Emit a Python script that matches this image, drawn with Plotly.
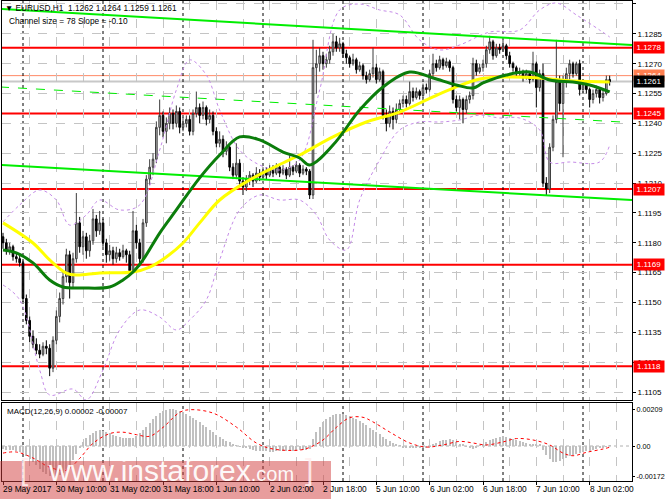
import plotly.graph_objects as go

# ---------------- data ----------------
bar_idx = list(range(183))

opens = [1.1183,1.1180,1.1176,1.1178,1.1173,1.1172,1.1170,1.1152,1.1141,1.1133,
 1.1129,1.1126,1.1124,1.1128,1.1127,1.1117,1.1131,1.1143,1.1152,1.1163,
 1.1174,1.1160,1.1172,1.1190,1.1178,1.1183,1.1176,1.1181,1.1192,1.1186,
 1.1190,1.1180,1.1174,1.1176,1.1172,1.1175,1.1173,1.1176,1.1174,1.1166,
 1.1186,1.1180,1.1172,1.1190,1.1212,1.1218,1.1222,1.1238,1.1244,1.1236,
 1.1240,1.1245,1.1240,1.1246,1.1238,1.1240,1.1242,1.1236,1.1245,1.1248,
 1.1244,1.1248,1.1242,1.1244,1.1236,1.1230,1.1232,1.1226,1.1228,1.1218,
 1.1214,1.1220,1.1211,1.1208,1.1212,1.1214,1.1211,1.1215,1.1213,1.1216,
 1.1214,1.1217,1.1215,1.1218,1.1215,1.1217,1.1214,1.1218,1.1216,1.1219,
 1.1215,1.1217,1.1216,1.1204,1.1268,1.1270,1.1274,1.1270,1.1272,1.1276,
 1.1281,1.1278,1.1280,1.1275,1.1273,1.1270,1.1272,1.1267,1.1269,1.1264,
 1.1262,1.1265,1.1268,1.1262,1.1266,1.1244,1.1240,1.1246,1.1242,1.1247,
 1.1250,1.1252,1.1250,1.1256,1.1253,1.1256,1.1254,1.1258,1.1257,1.1265,
 1.1270,1.1268,1.1272,1.1269,1.1271,1.1268,1.1252,1.1248,1.1252,1.1247,
 1.1252,1.1254,1.1270,1.1266,1.1268,1.1270,1.1277,1.1281,1.1274,1.1278,
 1.1277,1.1279,1.1274,1.1270,1.1268,1.1265,1.1266,1.1263,1.1265,1.1262,
 1.1270,1.1258,1.1265,1.1210,1.1207,1.1228,1.1242,1.1261,1.1250,1.1262,
 1.1265,1.1270,1.1265,1.1270,1.1257,1.1260,1.1257,1.1252,1.1255,1.1257,
 1.1253,1.1255,1.1262]

highs = [1.1185,1.1182,1.1180,1.1179,1.1175,1.1174,1.1171,1.1154,1.1143,1.1136,
 1.1132,1.1129,1.1130,1.1131,1.1129,1.1133,1.1146,1.1155,1.1166,1.1177,
 1.1176,1.1175,1.1205,1.1193,1.1186,1.1185,1.1184,1.1197,1.1194,1.1196,
 1.1192,1.1182,1.1179,1.1178,1.1178,1.1177,1.1179,1.1177,1.1176,1.1196,
 1.1189,1.1182,1.1192,1.1214,1.1222,1.1225,1.1241,1.1252,1.1246,1.1243,
 1.1248,1.1247,1.1249,1.1248,1.1243,1.1244,1.1244,1.1247,1.1256,1.1250,
 1.1251,1.1249,1.1247,1.1246,1.1238,1.1236,1.1234,1.1231,1.1229,1.1220,
 1.1230,1.1222,1.1213,1.1214,1.1216,1.1215,1.1218,1.1217,1.1218,1.1218,
 1.1219,1.1219,1.1220,1.1219,1.1219,1.1218,1.1224,1.1219,1.1221,1.1220,
 1.1219,1.1218,1.1217,1.1282,1.1277,1.1278,1.1276,1.1275,1.1279,1.1285,
 1.1284,1.1283,1.1281,1.1277,1.1274,1.1275,1.1273,1.1271,1.1270,1.1266,
 1.1267,1.1278,1.1270,1.1268,1.1267,1.1247,1.1249,1.1248,1.1250,1.1252,
 1.1254,1.1254,1.1261,1.1258,1.1258,1.1257,1.1260,1.1260,1.1267,1.1275,
 1.1272,1.1274,1.1273,1.1273,1.1272,1.1269,1.1254,1.1254,1.1253,1.1254,
 1.1256,1.1273,1.1272,1.1270,1.1272,1.1279,1.1284,1.1282,1.1280,1.1280,
 1.1282,1.1280,1.1276,1.1271,1.1269,1.1268,1.1267,1.1267,1.1266,1.1276,
 1.1271,1.1267,1.1270,1.1213,1.1230,1.1244,1.1282,1.1264,1.1264,1.1268,
 1.1272,1.1271,1.1271,1.1272,1.1262,1.1261,1.1258,1.1257,1.1259,1.1258,
 1.1257,1.1264,1.1264]

lows = [1.1177,1.1174,1.1174,1.1171,1.1170,1.1168,1.1150,1.1139,1.1130,1.1127,
 1.1124,1.1122,1.1123,1.1124,1.1113,1.1115,1.1129,1.1140,1.1149,1.1160,
 1.1152,1.1157,1.1170,1.1175,1.1174,1.1172,1.1173,1.1179,1.1183,1.1184,
 1.1178,1.1170,1.1171,1.1169,1.1170,1.1171,1.1172,1.1170,1.1164,1.1165,
 1.1177,1.1168,1.1170,1.1188,1.1209,1.1214,1.1220,1.1234,1.1233,1.1230,
 1.1237,1.1237,1.1238,1.1235,1.1236,1.1238,1.1234,1.1234,1.1243,1.1240,
 1.1242,1.1239,1.1240,1.1234,1.1228,1.1228,1.1223,1.1224,1.1216,1.1212,
 1.1212,1.1209,1.1204,1.1206,1.1209,1.1208,1.1210,1.1211,1.1212,1.1212,
 1.1213,1.1213,1.1214,1.1213,1.1214,1.1212,1.1213,1.1214,1.1215,1.1213,
 1.1214,1.1214,1.1202,1.1202,1.1255,1.1266,1.1267,1.1268,1.1270,1.1274,
 1.1276,1.1276,1.1273,1.1270,1.1268,1.1269,1.1265,1.1266,1.1262,1.1260,
 1.1261,1.1263,1.1260,1.1261,1.1242,1.1236,1.1238,1.1237,1.1240,1.1245,
 1.1248,1.1248,1.1249,1.1251,1.1252,1.1252,1.1253,1.1255,1.1256,1.1263,
 1.1266,1.1267,1.1267,1.1268,1.1266,1.1250,1.1246,1.1242,1.1240,1.1245,
 1.1250,1.1252,1.1264,1.1265,1.1266,1.1268,1.1275,1.1272,1.1273,1.1275,
 1.1276,1.1272,1.1268,1.1266,1.1263,1.1264,1.1261,1.1262,1.1260,1.1261,
 1.1248,1.1256,1.1208,1.1204,1.1205,1.1226,1.1240,1.1246,1.1223,1.1258,
 1.1262,1.1263,1.1264,1.1254,1.1255,1.1255,1.1248,1.1250,1.1253,1.1250,
 1.1251,1.1254,1.1259]

closes = [1.1180,1.1176,1.1178,1.1173,1.1172,1.1170,1.1152,1.1141,1.1133,1.1129,
 1.1126,1.1124,1.1128,1.1127,1.1117,1.1131,1.1143,1.1152,1.1163,1.1174,
 1.1160,1.1172,1.1190,1.1178,1.1183,1.1176,1.1181,1.1192,1.1186,1.1190,
 1.1180,1.1174,1.1176,1.1172,1.1175,1.1173,1.1176,1.1174,1.1166,1.1186,
 1.1180,1.1172,1.1190,1.1212,1.1218,1.1222,1.1238,1.1244,1.1236,1.1240,
 1.1245,1.1240,1.1246,1.1238,1.1240,1.1242,1.1236,1.1245,1.1248,1.1244,
 1.1248,1.1242,1.1244,1.1236,1.1230,1.1232,1.1226,1.1228,1.1218,1.1214,
 1.1220,1.1211,1.1208,1.1212,1.1214,1.1211,1.1215,1.1213,1.1216,1.1214,
 1.1217,1.1215,1.1218,1.1215,1.1217,1.1214,1.1218,1.1216,1.1219,1.1215,
 1.1217,1.1216,1.1204,1.1268,1.1270,1.1274,1.1270,1.1272,1.1276,1.1281,
 1.1278,1.1280,1.1275,1.1273,1.1270,1.1272,1.1267,1.1269,1.1264,1.1262,
 1.1265,1.1268,1.1262,1.1266,1.1244,1.1240,1.1246,1.1242,1.1247,1.1250,
 1.1252,1.1250,1.1256,1.1253,1.1256,1.1254,1.1258,1.1257,1.1265,1.1270,
 1.1268,1.1272,1.1269,1.1271,1.1268,1.1252,1.1248,1.1252,1.1247,1.1252,
 1.1254,1.1270,1.1266,1.1268,1.1270,1.1277,1.1281,1.1274,1.1278,1.1277,
 1.1279,1.1274,1.1270,1.1268,1.1265,1.1266,1.1263,1.1265,1.1262,1.1270,
 1.1258,1.1265,1.1210,1.1207,1.1228,1.1242,1.1261,1.1250,1.1262,1.1265,
 1.1270,1.1265,1.1270,1.1257,1.1260,1.1257,1.1252,1.1255,1.1257,1.1253,
 1.1255,1.1262,1.1261]

# moving averages (read at sample bars)
ma_slow_idx = [0, 9, 14, 19, 22, 29, 39, 44, 49, 54, 59, 65, 74, 84, 89, 99, 109, 119, 129, 136, 143, 151, 161, 171, 182]
ma_slow = [1.11900, 1.11799, 1.11714, 1.11648, 1.11638, 1.11648, 1.11653, 1.11678, 1.11729, 1.11799,
           1.11900, 1.12015, 1.12116, 1.12201, 1.12241, 1.12332, 1.12407, 1.12457, 1.12533, 1.12583,
           1.12623, 1.12633, 1.12628, 1.12613, 1.12608]
ma_fast_idx = [0, 4, 9, 14, 18, 24, 32, 36, 39, 42, 47, 52, 59, 65, 71, 77, 84, 89, 92, 99, 107, 114,
               122, 129, 136, 141, 144, 151, 158, 164, 171, 176, 182]
ma_fast = [1.11764, 1.11749, 1.11699, 1.11613, 1.11578, 1.11573, 1.11578, 1.11613, 1.11653, 1.11714,
           1.11849, 1.11965, 1.12126, 1.12241, 1.12332, 1.12317, 1.12256, 1.12226, 1.12191, 1.12291,
           1.12467, 1.12583, 1.12658, 1.12628, 1.12593, 1.12578, 1.12603, 1.12643, 1.12658, 1.12618,
           1.12608, 1.12593, 1.12558]

# bands (purple dotted)
band_up_idx = [0, 5, 11, 16, 20, 25, 29, 35, 41, 47, 52, 56, 61, 65, 71, 77, 83, 89, 95, 101, 107,
               113, 119, 125, 131, 137, 146, 155, 161, 166, 172, 179, 182]
band_up = [1.11905, 1.11990, 1.12065, 1.12015, 1.11889, 1.11940, 1.12015, 1.11965, 1.11990, 1.12266,
           1.12568, 1.12719, 1.12643, 1.12467, 1.12266, 1.12191, 1.12166, 1.12216, 1.12568, 1.12970,
           1.13000, 1.12970, 1.12945, 1.12819, 1.12769, 1.12794, 1.12859, 1.12869, 1.12970, 1.13005,
           1.12945, 1.12869, 1.12834]
band_dn_idx = [0, 5, 11, 14, 21, 25, 30, 35, 41, 47, 52, 56, 61, 65, 71, 77, 83, 89, 94, 98, 103,
               107, 113, 119, 125, 131, 137, 143, 149, 155, 161, 164, 170, 179, 182]
band_dn = [1.11588, 1.11513, 1.11161, 1.11035, 1.11065, 1.11010, 1.11161, 1.11362, 1.11462, 1.11427,
           1.11362, 1.11412, 1.11513, 1.11714, 1.11965, 1.12040, 1.12015, 1.12015, 1.11940, 1.11814,
           1.11764, 1.12015, 1.12216, 1.12367, 1.12407, 1.12407, 1.12417, 1.12442, 1.12427, 1.12427,
           1.12367, 1.12206, 1.12206, 1.12206, 1.12291]

# equidistant channel
channel_idx = [-0.9, 188.7]
channel_upper = [1.12975, 1.12794]
channel_lower = [1.12191, 1.12015]
channel_mid_idx = [-0.9, 185.5]
channel_mid = [1.12583, 1.12407]

# horizontal levels
red_levels = [1.1278, 1.1245, 1.1207, 1.1169, 1.1118]
ask_level = 1.1264
bid_level = 1.1261

# MACD
macd_hist = [-0.00018,-0.00020,-0.00022,-0.00025,-0.00028,-0.00033,-0.00040,-0.00055,-0.00072,-0.00090,
 -0.00110,-0.00128,-0.00145,-0.00158,-0.00168,-0.00172,-0.00170,-0.00162,-0.00150,-0.00132,
 -0.00110,-0.00080,-0.00045,-0.00010,0.00020,0.00045,0.00062,0.00075,0.00085,0.00088,
 0.00086,0.00080,0.00072,0.00064,0.00058,0.00052,0.00048,0.00045,0.00044,0.00048,
 0.00058,0.00072,0.00090,0.00110,0.00130,0.00150,0.00168,0.00185,0.00198,0.00206,
 0.00209,0.00208,0.00204,0.00198,0.00190,0.00180,0.00170,0.00158,0.00146,0.00134,
 0.00120,0.00106,0.00092,0.00078,0.00064,0.00052,0.00040,0.00030,0.00020,0.00012,
 0.00005,-0.00002,-0.00008,-0.00014,-0.00019,-0.00023,-0.00026,-0.00028,-0.00030,-0.00031,
 -0.00032,-0.00032,-0.00031,-0.00030,-0.00030,-0.00029,-0.00028,-0.00027,-0.00026,-0.00025,
 -0.00022,-0.00020,-0.00015,0.00040,0.00080,0.00110,0.00135,0.00152,0.00165,0.00173,
 0.00178,0.00180,0.00178,0.00174,0.00168,0.00160,0.00150,0.00140,0.00128,0.00116,
 0.00104,0.00090,0.00078,0.00066,0.00052,0.00040,0.00028,0.00018,0.00010,0.00002,
 -0.00006,-0.00010,-0.00012,-0.00012,-0.00011,-0.00010,-0.00009,-0.00008,-0.00004,0.00008,
 0.00018,0.00026,0.00032,0.00036,0.00038,0.00034,0.00020,0.00012,0.00006,-0.00004,
 -0.00012,-0.00016,-0.00010,0.00002,0.00012,0.00022,0.00032,0.00042,0.00048,0.00052,
 0.00054,0.00052,0.00048,0.00042,0.00036,0.00030,0.00024,0.00018,0.00014,0.00012,
 0.00008,0.00006,-0.00020,-0.00050,-0.00075,-0.00090,-0.00092,-0.00085,-0.00075,-0.00066,
 -0.00058,-0.00050,-0.00044,-0.00040,-0.00035,-0.00030,-0.00026,-0.00022,-0.00018,-0.00013,
 -0.00008,-0.00003,0.00002]
signal_idx = [0, 4, 9, 14, 19, 23, 27, 32, 36, 40, 44, 48, 53, 56, 63, 70, 76, 81, 89, 92, 96, 100,
              104, 108, 111, 116, 122, 127, 132, 137, 141, 145, 150, 154, 159, 164, 168, 171, 175, 180, 182]
signal_vals = [-0.00040, -0.00034, -0.00068, -0.00120, -0.00136, -0.00070, 0.00015, 0.00070, 0.00078,
               0.00064, 0.00055, 0.00105, 0.00190, 0.00205, 0.00186, 0.00107, 0.00017, -0.00017,
               -0.00023, -0.00008, 0.00034, 0.00105, 0.00160, 0.00162, 0.00136, 0.00079, 0.00017,
               -0.00006, 0.00006, 0.00026, 0.00017, 0.00006, 0.00023, 0.00042, 0.00034, 0.00006,
               -0.00040, -0.00055, -0.00036, -0.00017, -0.00007]

# axes
price_ticks = [1.1105, 1.1120, 1.1135, 1.1150, 1.1165, 1.1180, 1.1195, 1.1210,
               1.1225, 1.1240, 1.1255, 1.1270, 1.1285, 1.1300]
macd_ticks = [0.00209, 0.0, -0.00172]
macd_tick_text = ["0.00209", "0.00", "-0.00172"]
x_label_idx = [0, 16, 32, 48, 64, 80, 96, 112, 128, 144, 160, 176]
x_label_text = ["29 May 2017", "30 May 10:00", "31 May 02:00", "31 May 18:00", "1 Jun 10:00",
                "2 Jun 02:00", "2 Jun 18:00", "5 Jun 10:00", "6 Jun 02:00", "6 Jun 18:00",
                "7 Jun 10:00", "8 Jun 02:00"]
x_grid_idx = [8, 24, 40, 56, 72, 88, 104, 120, 136, 152, 168, 184]
day_sep_idx = [6, 30, 54, 78, 102, 126, 150, 174]

# ---------------- figure ----------------
FONT = "Arial, Liberation Sans, sans-serif"
fig = go.Figure()

fig.add_trace(go.Candlestick(
    x=bar_idx, open=opens, high=highs, low=lows, close=closes,
    increasing=dict(line=dict(color="#3c3c3c", width=1), fillcolor="#b4b4b4"),
    decreasing=dict(line=dict(color="#000000", width=1), fillcolor="#000000"),
    whiskerwidth=0, xaxis="x", yaxis="y", showlegend=False, hoverinfo="skip"))

purple = "#c58be8"
fig.add_trace(go.Scatter(x=band_up_idx, y=band_up, mode="lines", line=dict(color=purple, width=1, dash="dot", shape="spline"), xaxis="x", yaxis="y", showlegend=False))
fig.add_trace(go.Scatter(x=band_dn_idx, y=band_dn, mode="lines", line=dict(color=purple, width=1, dash="dot", shape="spline"), xaxis="x", yaxis="y", showlegend=False))

fig.add_trace(go.Scatter(x=channel_idx, y=channel_upper, mode="lines", line=dict(color="#00ee00", width=2), xaxis="x", yaxis="y", showlegend=False))
fig.add_trace(go.Scatter(x=channel_idx, y=channel_lower, mode="lines", line=dict(color="#00ee00", width=2), xaxis="x", yaxis="y", showlegend=False))
fig.add_trace(go.Scatter(x=channel_mid_idx, y=channel_mid, mode="lines", line=dict(color="#00ee00", width=1, dash="dash"), xaxis="x", yaxis="y", showlegend=False))

fig.add_trace(go.Scatter(x=ma_slow_idx, y=ma_slow, mode="lines", line=dict(color="#ffff00", width=3, shape="spline"), xaxis="x", yaxis="y", showlegend=False))
fig.add_trace(go.Scatter(x=ma_fast_idx, y=ma_fast, mode="lines", line=dict(color="#0b7d0b", width=3, shape="spline"), xaxis="x", yaxis="y", showlegend=False))

# MACD panel
fig.add_trace(go.Bar(x=bar_idx, y=macd_hist, marker=dict(color="#c0c0c0", line=dict(width=0)), width=0.6,
                     xaxis="x2", yaxis="y2", showlegend=False))
fig.add_trace(go.Scatter(x=signal_idx, y=signal_vals, mode="lines", line=dict(color="#ff0000", width=1, dash="dot", shape="spline"),
                         xaxis="x2", yaxis="y2", showlegend=False))

shapes = []
for lv in red_levels:
    shapes.append(dict(type="line", xref="x domain", yref="y", x0=0, x1=1, y0=lv, y1=lv,
                       line=dict(color="#ff0000", width=2), layer="below"))
shapes.append(dict(type="line", xref="x domain", yref="y", x0=0, x1=1, y0=ask_level, y1=ask_level,
                   line=dict(color="#ff8a66", width=1), layer="below"))
shapes.append(dict(type="line", xref="x domain", yref="y", x0=0, x1=1, y0=bid_level, y1=bid_level,
                   line=dict(color="#c8c8c8", width=2), layer="below"))
for d in day_sep_idx:
    shapes.append(dict(type="line", xref="x", yref="y domain", x0=d, x1=d, y0=0, y1=1,
                       line=dict(color="#000000", width=1, dash="dot"), layer="below"))
    shapes.append(dict(type="line", xref="x2", yref="y2 domain", x0=d, x1=d, y0=0, y1=1,
                       line=dict(color="#000000", width=1, dash="dot"), layer="below"))
shapes.append(dict(type="line", xref="x2 domain", yref="y2", x0=0, x1=1, y0=0, y1=0,
                   line=dict(color="#b0b0b0", width=1, dash="dot"), layer="below"))
# watermark box
shapes.append(dict(type="rect", xref="paper", yref="paper", x0=-0.0032, x1=0.5222, y0=-0.04, y1=0.0417,
                   fillcolor="rgba(210,60,60,0.5)", line=dict(width=0), layer="above"))

annotations = []
def price_box(val, bg, fg="#ffffff"):
    return dict(xref="paper", yref="y", x=1, y=val, xanchor="left", yanchor="middle",
                text=f"{val:.4f}", showarrow=False, bgcolor=bg, width=30, height=11,
                font=dict(family=FONT, size=8, color=fg), borderpad=0, xshift=1)
for lv in red_levels:
    annotations.append(price_box(lv, "#ff0000"))
annotations.append(price_box(ask_level, "#ff7f50"))
annotations.append(price_box(bid_level, "#000000"))

for xi, txt in zip(x_label_idx, x_label_text):
    annotations.append(dict(xref="x2", yref="paper", x=xi, y=0, xanchor="left", yanchor="top",
                            text=txt, showarrow=False, xshift=-2, yshift=-1,
                            font=dict(family=FONT, size=8.4, color="#000000")))

annotations.append(dict(xref="paper", yref="paper", x=0.002, y=0.999, xanchor="left", yanchor="top",
                        text="▼ EURUSD,H1  1.1262 1.1264 1.1259 1.1261", showarrow=False,
                        font=dict(family=FONT, size=8.3, color="#000000")))
annotations.append(dict(xref="paper", yref="paper", x=0.008, y=0.973, xanchor="left", yanchor="top",
                        text="Channel size = 78 Slope = -0.10", showarrow=False,
                        font=dict(family=FONT, size=8.3, color="#000000")))
annotations.append(dict(xref="paper", yref="y2 domain", x=0.004, y=0.98, xanchor="left", yanchor="top",
                        text="MACD(12,26,9) 0.00002 -0.00007", showarrow=False,
                        font=dict(family=FONT, size=8, color="#000000")))
annotations.append(dict(xref="paper", yref="paper", x=0.070, y=0.022, xanchor="left", yanchor="middle",
                        text="www.instaforex<span style='font-size:20px'>.com</span>", showarrow=False,
                        font=dict(family=FONT, size=30, color="rgba(255,255,255,0.95)")))
annotations.append(dict(xref="paper", yref="paper", x=0.025, y=0.024, xanchor="left", yanchor="middle",
                        text="[", showarrow=False,
                        font=dict(family=FONT, size=30, color="rgba(255,240,240,0.9)")))
annotations.append(dict(xref="paper", yref="paper", x=0.478, y=0.024, xanchor="left", yanchor="middle",
                        text="]", showarrow=False,
                        font=dict(family=FONT, size=30, color="rgba(255,240,240,0.9)")))

grid_col = "#c4c4c4"
axis_font = dict(family=FONT, size=8, color="#000000")
fig.update_layout(
    width=665, height=499,
    margin=dict(l=2, r=33, t=1, b=18, autoexpand=False),
    paper_bgcolor="#ffffff", plot_bgcolor="#ffffff",
    bargap=0, showlegend=False,
    xaxis=dict(domain=[0, 1], anchor="y", range=[-0.3, 188.7], showticklabels=False, automargin=False,
               tickvals=x_label_idx, ticks="", showgrid=True, gridcolor=grid_col, griddash="dash", gridwidth=1,
               minor=dict(tickvals=x_grid_idx, showgrid=True, gridcolor=grid_col, griddash="dash", ticks=""),
               showline=True, linecolor="#000000", linewidth=1, mirror=True, zeroline=False,
               rangeslider=dict(visible=False)),
    yaxis=dict(domain=[0.16875, 1.0], anchor="x", side="right", range=[1.11010, 1.13015], automargin=False,
               tickvals=price_ticks, tickformat=".4f", ticks="outside", ticklen=3, tickcolor="#000000",
               tickfont=axis_font, showgrid=True, gridcolor=grid_col, griddash="dash",
               showline=True, linecolor="#000000", linewidth=1, mirror=True, zeroline=False),
    xaxis2=dict(domain=[0, 1], anchor="y2", matches="x", range=[-0.3, 188.7], automargin=False,
                tickvals=x_label_idx, showticklabels=False, ticks="outside", ticklen=3, tickcolor="#000000",
                showgrid=True, gridcolor=grid_col, griddash="dash",
                minor=dict(tickvals=x_grid_idx, showgrid=True, gridcolor=grid_col, griddash="dash", ticks=""),
                showline=True, linecolor="#000000", linewidth=1, mirror=True, zeroline=False),
    yaxis2=dict(domain=[0, 0.1625], anchor="x2", side="right", range=[-0.001977, 0.002429], automargin=False,
                tickvals=macd_ticks, ticktext=macd_tick_text, ticks="outside", ticklen=2, tickcolor="#000000",
                tickfont=dict(family=FONT, size=7.2, color="#000000"), showgrid=False,
                showline=True, linecolor="#000000", linewidth=1, mirror=True, zeroline=False),
    shapes=shapes, annotations=annotations,
)

fig.write_html("out.html", config={"displayModeBar": False},
               post_script="document.body.style.margin='0';document.body.style.overflow='hidden';")
